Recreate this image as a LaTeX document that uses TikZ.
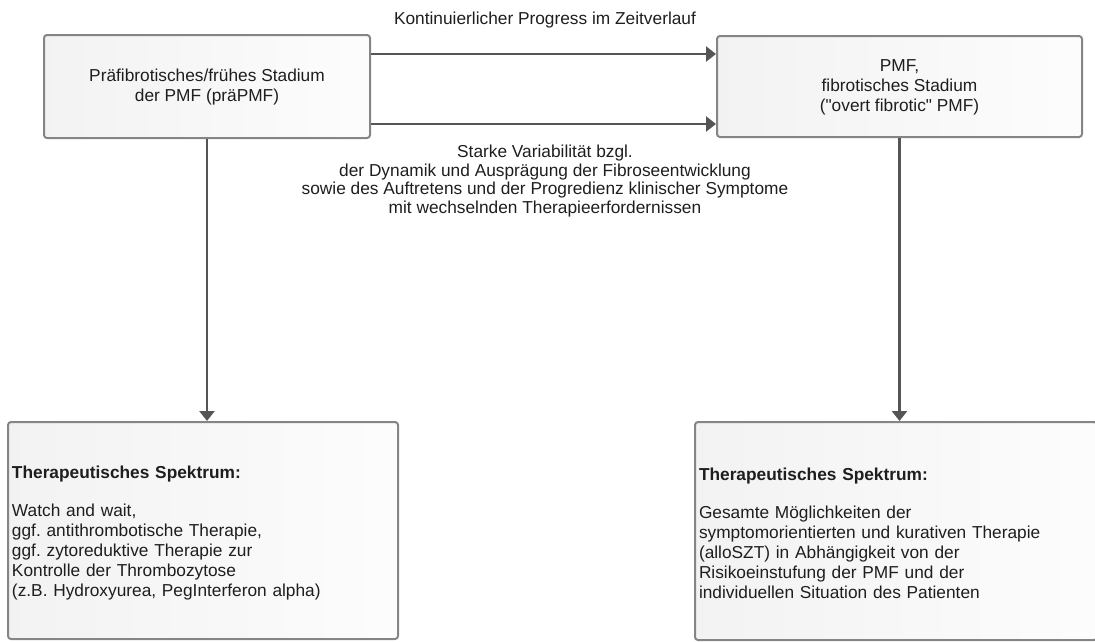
\documentclass[tikz,border=0pt]{standalone}
\usepackage{fontspec}
\setmainfont{Liberation Sans}[Ligatures=TeXOff]
\usepackage{tikz}
\usetikzlibrary{arrows.meta,positioning,shadings}
\definecolor{rahmen}{HTML}{858585}
\definecolor{linie}{HTML}{555555}
\definecolor{schrift}{HTML}{1E1E1E}
\tikzstyle{every picture}+=[font=\fontsize{17.3}{20}\selectfont]
\frenchspacing

\begin{document}
\begin{tikzpicture}
			[x=1pt, y=-1pt, inner sep=0pt, text=schrift,
			stadium/.style	= {draw=rahmen, line width=2pt, rounded corners=3pt, left color=black!5, right color=black!1, align=center},
			spektrum/.style	= {stadium, align=left, inner sep=4pt},
			pfeil/.style	= {draw=linie, line width=2.5pt, -{Triangle[length=10pt, width=15pt]}}]

			\useasboundingbox (0,0) rectangle (1095,641);

			\node [stadium, minimum width=326pt, minimum height=103pt]	at (207,86.5)	(prae)	{\vphantom{Ä}Präfibrotisches/frühes Stadium\\der PMF (präPMF)\vphantom{g}};
			\node [stadium, minimum width=365pt, minimum height=101pt]	at (899.5,86.5)	(pmf)	{\vphantom{Ä}PMF,\\fibrotisches Stadium\\("overt fibrotic" PMF)};

			\node [spektrum, text width=382pt, minimum height=217pt]	at (203,530.5)	(ther1)	{\mbox{}\\[-2pt]\textbf{Therapeutisches Spektrum:}\\[18pt]Watch and wait,\\ggf. antithrombotische Therapie,\\ggf. zytoreduktive Therapie zur\\Kontrolle der Thrombozytose\\(z.B. Hydroxyurea, PegInterferon alpha)};
			\node [spektrum, text width=394pt, minimum height=218pt]	at (896,531)	(ther2)	{\mbox{}\\[-2pt]\textbf{Therapeutisches Spektrum:}\\[18pt]Gesamte Möglichkeiten der\\symptomorientierten und kurativen Therapie\\(alloSZT) in Abhängigkeit von der\\Risikoeinstufung der PMF und der\\individuellen Situation des Patienten};

			\node at (545,20)	(progress)	{Kontinuierlicher Progress im Zeitverlauf};
			\node [align=center, font=\fontsize{17.3}{18.5}\selectfont] at (545,181)	(variab)	{Starke Variabilität bzgl.\\der Dynamik und Ausprägung der Fibroseentwicklung\\sowie des Auftretens und der Progredienz klinischer Symptome\\mit wechselnden Therapieerfordernissen};

			\draw [pfeil]	(prae.east |- 0,54)		-- (pmf.west |- 0,54);
			\draw [pfeil]	(prae.east |- 0,124)	-- (pmf.west |- 0,124);
			\draw [pfeil]	(prae.south)			-- (prae.south |- ther1.north);
			\draw [pfeil]	(pmf.south)				-- (pmf.south |- ther2.north);
\end{tikzpicture}
\end{document}
